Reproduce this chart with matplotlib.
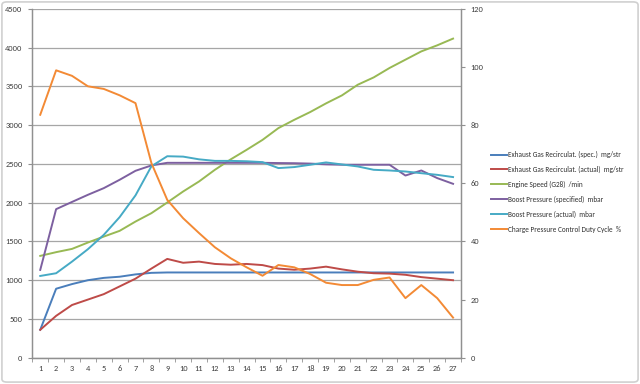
import matplotlib
matplotlib.use("Agg")
import matplotlib.pyplot as plt
from matplotlib.patches import FancyBboxPatch
import numpy as np

plt.rcParams['font.family'] = ['Carlito', 'Liberation Sans Narrow', 'DejaVu Sans']

x = list(range(1, 28))
egr_spec = [360, 890, 950, 1000, 1030, 1045, 1075, 1095, 1100, 1100, 1100, 1100, 1100, 1100,
            1100, 1100, 1100, 1100, 1100, 1100, 1100, 1100, 1100, 1100, 1100, 1100, 1100]
egr_actual = [360, 540, 680, 750, 820, 920, 1020, 1150, 1275, 1225, 1240, 1210, 1200, 1210,
              1195, 1150, 1135, 1150, 1175, 1140, 1110, 1090, 1085, 1070, 1040, 1020, 1000]
engine_speed = [1314, 1362, 1404, 1486, 1563, 1637, 1757, 1865, 2003, 2145, 2274, 2425, 2560, 2683,
                2811, 2963, 3070, 3170, 3282, 3385, 3523, 3617, 3739, 3846, 3953, 4031, 4118]
boost_spec = [1133, 1917, 2010, 2102, 2188, 2296, 2412, 2481, 2515, 2515, 2515, 2515, 2515, 2515,
              2515, 2512, 2510, 2505, 2495, 2490, 2490, 2490, 2490, 2351, 2416, 2318, 2244]
boost_actual = [1055, 1090, 1240, 1400, 1585, 1814, 2095, 2470, 2600, 2595, 2560, 2540, 2540, 2535,
                2524, 2447, 2460, 2490, 2520, 2494, 2468, 2425, 2416, 2403, 2381, 2360, 2331]
duty_cycle = [83.6, 98.9, 97.0, 93.4, 92.5, 90.3, 87.6, 67.0, 54.3, 48.0, 42.9, 38.0, 34.2, 31.1,
              28.2, 31.9, 31.1, 28.8, 25.8, 25.0, 25.0, 26.8, 27.6, 20.5, 25.0, 20.5, 13.8]

labels = ["Exhaust Gas Recirculat. (spec.)  mg/str",
          "Exhaust Gas Recirculat. (actual)  mg/str",
          "Engine Speed (G28)  /min",
          "Boost Pressure (specified)  mbar",
          "Boost Pressure (actual)  mbar",
          "Charge Pressure Control Duty Cycle  %"]
colors = ["#4A7EBB", "#BE4B48", "#98B954", "#7D60A0", "#46AAC5", "#F38A35"]

fig = plt.figure(figsize=(6.4, 3.84), dpi=100)
ax = fig.add_axes([32.3/640, 1-357.7/384, (461-32.3)/640, (357.7-9)/384])
ax2 = ax.twinx()

lw = 1.4
left_series = [egr_spec, egr_actual, engine_speed, boost_spec, boost_actual]
handles = []
for s, c, l in zip(left_series, colors[:5], labels[:5]):
    h, = ax.plot(x, s, color=c, lw=lw, label=l)
    handles.append(h)
h, = ax2.plot(x, duty_cycle, color=colors[5], lw=lw, label=labels[5])
handles.append(h)

ax.set_xlim(0.5, 27.5)
ax.set_ylim(0, 4500)
ax2.set_ylim(0, 120)
ax.set_yticks(np.arange(0, 4501, 500))
ax2.set_yticks(np.arange(0, 121, 20))
ax.set_xticks(x)
ax.set_xticks(np.arange(0.5, 28, 1), minor=True)
ax.tick_params(axis='x', which='major', length=0, labelsize=6, colors='#404040', pad=5)
ax.tick_params(axis='x', which='minor', length=3, color='#909090', direction='out')
ax.tick_params(axis='y', length=3, color='#909090', labelsize=6, labelcolor='#404040', pad=4)
ax2.tick_params(axis='y', length=3, color='#909090', labelsize=6, labelcolor='#404040', pad=4)

ax.grid(axis='y', color='#A6A6A6', lw=0.9)
ax.set_axisbelow(True)
for a in (ax, ax2):
    a.spines['top'].set_visible(False)
    for sp in ('left', 'right', 'bottom'):
        a.spines[sp].set_color('#909090')
        a.spines[sp].set_linewidth(0.9)

leg = fig.legend(handles=handles, labels=labels, loc='upper left',
                 bbox_to_anchor=(491/640, 1-151/384), frameon=False,
                 fontsize=5.2, handlelength=2.2, handletextpad=0.2, labelspacing=1.07,
                 borderaxespad=0, borderpad=0)
for t in leg.get_texts():
    t.set_color('#303030')

border = FancyBboxPatch((0.003, 0.005), 0.994, 0.99, boxstyle="round,pad=0,rounding_size=0.008",
                        transform=fig.transFigure, fill=False, edgecolor='#D0D0D0', lw=1.2)
fig.patches.append(border)

fig.savefig("out.png", dpi=100)
